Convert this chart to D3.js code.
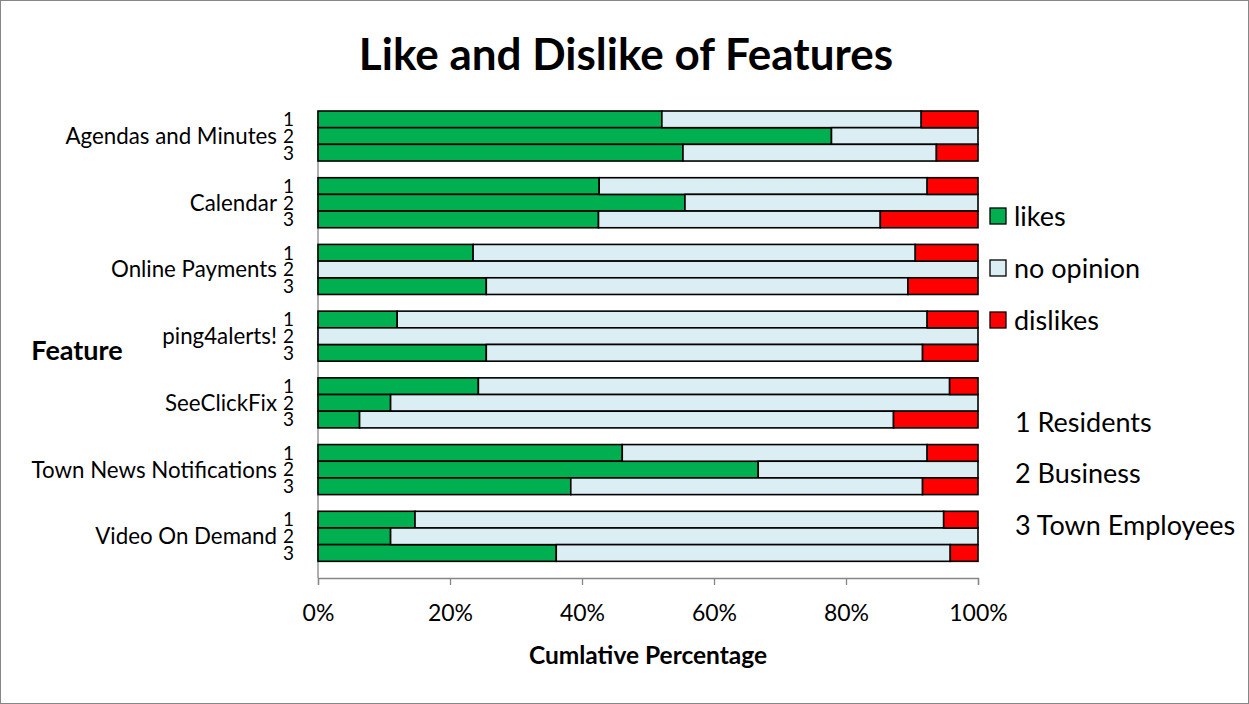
<!DOCTYPE html>
<html><head><meta charset="utf-8">
<script src="https://cdn.jsdelivr.net/npm/d3@7/dist/d3.min.js"></script>
<style>
body{margin:0;background:#fff;}
text{font-family:Lato,"Open Sans",sans-serif;fill:#000;}
</style></head>
<body><svg id="c" width="1249" height="704"></svg>
<script>
const features = ["Agendas and Minutes","Calendar","Online Payments","ping4alerts!","SeeClickFix","Town News Notifications","Video On Demand"];
const groups = ["1","2","3"];
const groupNames = ["1 Residents","2 Business","3 Town Employees"];
const seriesNames = ["likes","no opinion","dislikes"];
const seriesColors = ["#00B050","#DAEEF3","#FF0000"];
const likes     = [[52.1,77.8,55.3],[42.6,55.6,42.5],[23.5,0,25.5],[12.0,0,25.5],[24.3,11.0,6.3],[46.1,66.7,38.3],[14.7,11.0,36.1]];
const noOpinion = [[39.3,22.2,38.4],[49.7,44.4,42.7],[67.0,100,63.9],[80.3,100,66.1],[71.4,89.0,80.9],[46.2,33.3,53.3],[80.1,89.0,59.7]];
const dislikes  = [[8.6,0,6.3],[7.7,0,14.8],[9.5,0,10.6],[7.7,0,8.4],[4.3,0,12.8],[7.7,0,8.4],[5.2,0,4.2]];
const xTicks = [0,20,40,60,80,100];

(function(){
const svg = d3.select("#c");
const W = 1249, H = 704;
svg.append("rect").attr("x",0.5).attr("y",0.5).attr("width",W-1).attr("height",H-1)
  .attr("fill","#fff").attr("stroke","#868686").attr("stroke-width",1);

const rows = [];
features.forEach((f,i)=>{
  groups.forEach((g,j)=>rows.push({key:f+"|"+g, feature:f, group:g,
    likes:likes[i][j], noOpinion:noOpinion[i][j], dislikes:dislikes[i][j]}));
  rows.push({key:f+"|blank", blank:true});
});
const bars = rows.filter(r=>!r.blank);

const pL = 318, pR = 978, pT = 111, pB = 578;
const x = d3.scaleLinear().domain([0,100]).range([pL,pR]);
const y = d3.scaleBand().domain(rows.map(r=>r.key)).range([pT,pB]).padding(0);
const color = d3.scaleOrdinal().domain(["likes","noOpinion","dislikes"]).range(seriesColors);

const series = d3.stack().keys(["likes","noOpinion","dislikes"])(bars);

svg.append("line").attr("x1",pL).attr("x2",pL).attr("y1",pT).attr("y2",pB)
  .attr("stroke","#868686").attr("stroke-width",1.3);
const xAxis = d3.axisBottom(x).tickValues(xTicks).tickFormat(d=>d+"%").tickSize(7).tickPadding(20);
const gx = svg.append("g").attr("transform",`translate(0,${pB})`).call(xAxis);
gx.select(".domain").attr("stroke","#868686").attr("stroke-width",1.3);
gx.selectAll(".tick line").attr("stroke","#868686").attr("stroke-width",1.3);
gx.selectAll(".tick text").attr("font-size",23).attr("font-family","Lato").attr("fill","#000");

svg.append("g").selectAll("g").data(series).join("g")
  .attr("fill",d=>color(d.key))
  .selectAll("rect").data(d=>d.filter(s=>s[1]-s[0]>0)).join("rect")
  .attr("x",d=>x(d[0])).attr("width",d=>x(d[1])-x(d[0]))
  .attr("y",d=>y(d.data.key)).attr("height",y.bandwidth())
  .attr("stroke","#000").attr("stroke-width",1.6);

svg.append("g").selectAll("text").data(bars).join("text")
  .attr("x",294).attr("y",d=>y(d.key)+y.bandwidth()/2).attr("dy","0.36em")
  .attr("text-anchor","end").attr("font-size",19).text(d=>d.group);

svg.append("g").selectAll("text").data(features).join("text")
  .attr("x",277).attr("y",f=>y(f+"|2")+y.bandwidth()/2).attr("dy","0.36em")
  .attr("text-anchor","end").attr("font-size",22.3).text(f=>f);

svg.append("text").attr("x",626).attr("y",70).attr("text-anchor","middle")
  .attr("font-size",44).attr("font-weight","bold").text("Like and Dislike of Features");

svg.append("text").attr("x",77).attr("y",350).attr("dy","0.36em").attr("text-anchor","middle")
  .attr("font-size",27).attr("font-weight","bold").text("Feature");
svg.append("text").attr("x",648).attr("y",655).attr("dy","0.36em").attr("text-anchor","middle")
  .attr("font-size",24.5).attr("font-weight","bold").text("Cumlative Percentage");

const lg = svg.append("g");
seriesNames.forEach((n,i)=>{
  const yy = 216 + i*52;
  lg.append("rect").attr("x",990).attr("y",yy-8).attr("width",16).attr("height",16)
    .attr("fill",seriesColors[i]).attr("stroke","#000").attr("stroke-width",1.3);
  lg.append("text").attr("x",1014).attr("y",yy).attr("dy","0.36em").attr("font-size",27).text(n);
});
groupNames.forEach((n,i)=>{
  svg.append("text").attr("x",1015).attr("y",422+i*51.5).attr("dy","0.36em").attr("font-size",27).text(n);
});
})();
</script></body></html>
